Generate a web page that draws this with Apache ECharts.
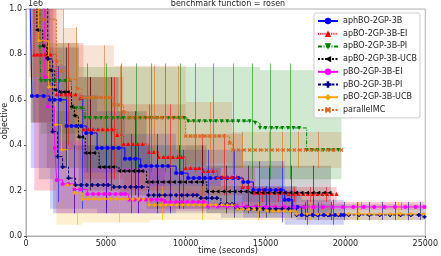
<!DOCTYPE html>
<html><head><meta charset="utf-8">
<script src="https://cdn.jsdelivr.net/npm/echarts@6/dist/echarts.min.js"></script>
<style>html,body{margin:0;padding:0;background:#fff}#c{width:441px;height:256px}</style>
</head><body><div id="c"></div>
<script>
const FONT = 'DejaVu Sans';
const seriesNames = ['aphBO-2GP-3B','apBO-2GP-3B-EI','apBO-2GP-3B-PI','apBO-2GP-3B-UCB','pBO-2GP-3B-EI','pBO-2GP-3B-PI','pBO-2GP-3B-UCB','parallelMC'];
const xTicks = [0, 5000, 10000, 15000, 20000, 25000];
const yTicks = [0, 0.2, 0.4, 0.6, 0.8, 1.0];
const chartTitle = 'benchmark function = rosen';
const xLabel = 'time (seconds)';
const yLabel = 'objective';
const yOffsetText = '1e6';

// mean objective (units of 1e6) : [time, value]
const aphMean = [[250,1.05],[370,0.617],[700,0.617],[1100,0.617],[1490,0.6],[1800,0.6],[2150,0.6],[2540,0.485],[2850,0.485],[3150,0.485],[3450,0.485],[3770,0.454],[4100,0.454],[4450,0.388],[4750,0.388],[5100,0.388],[5450,0.388],[5800,0.388],[6190,0.34],[6500,0.34],[6850,0.34],[7180,0.308],[7500,0.308],[7850,0.308],[8200,0.308],[8550,0.308],[8900,0.308],[9400,0.277],[9750,0.277],[10150,0.255],[10500,0.255],[10850,0.255],[11200,0.255],[11550,0.255],[11900,0.255],[12250,0.255],[12600,0.255],[12950,0.255],[13300,0.255],[13600,0.238],[13900,0.238],[14230,0.203],[14600,0.203],[14950,0.203],[15300,0.203],[15650,0.203],[15950,0.203],[16200,0.16],[16450,0.16],[16700,0.128],[17000,0.128],[17260,0.092],[17600,0.092],[17950,0.092],[18300,0.092],[18650,0.092],[19000,0.092],[19350,0.092],[19700,0.092],[19900,0.092]];
const apEIMean = [[300,1.05],[500,0.8],[700,0.8],[930,0.8],[1200,0.8],[1550,0.8],[1900,0.625],[2200,0.625],[2500,0.625],[2800,0.625],[3100,0.625],[3400,0.607],[3600,0.47],[3900,0.47],[4200,0.47],[4500,0.47],[4800,0.47],[5100,0.47],[5400,0.47],[5700,0.445],[6100,0.405],[6400,0.405],[6700,0.405],[7000,0.405],[7300,0.405],[7700,0.37],[8000,0.37],[8300,0.348],[8600,0.348],[8900,0.348],[9200,0.348],[9500,0.348],[9750,0.348],[10000,0.3],[10300,0.3],[10600,0.3],[10850,0.3],[11100,0.286],[11400,0.286],[11700,0.286],[12000,0.26],[12300,0.26],[12600,0.26],[12900,0.26],[13200,0.26],[13550,0.216],[13900,0.216],[14350,0.19],[14650,0.19],[14950,0.19],[15250,0.19],[15550,0.19],[15850,0.19],[16150,0.19],[16450,0.185],[16750,0.185],[17050,0.185],[17350,0.185],[17650,0.185],[17950,0.185],[18250,0.185],[18550,0.185],[18850,0.185],[19150,0.185],[19450,0.185]];
const apPIMean = [[300,1.05],[870,0.83],[930,0.683],[1200,0.683],[1500,0.683],[1800,0.683],[2100,0.683],[2450,0.683],[2850,0.563],[3150,0.563],[3450,0.563],[3700,0.52],[4000,0.52],[4350,0.52],[4700,0.52],[5050,0.52],[5400,0.52],[5750,0.52],[6100,0.52],[6450,0.52],[6800,0.52],[7150,0.52],[7500,0.52],[7850,0.52],[8200,0.52],[8550,0.52],[8900,0.52],[9250,0.52],[9600,0.52],[9900,0.52],[10150,0.506],[10500,0.506],[10850,0.506],[11200,0.506],[11550,0.506],[11900,0.506],[12250,0.506],[12600,0.506],[12950,0.506],[13300,0.506],[13650,0.506],[14000,0.506],[14350,0.498],[14650,0.476],[15000,0.476],[15350,0.476],[15700,0.476],[16050,0.476],[16400,0.476],[16750,0.476],[17100,0.476],[17570,0.379],[17900,0.379],[18250,0.379],[18600,0.379],[18950,0.379],[19250,0.379],[19550,0.379]];
const apUCBMean = [[430,1.05],[680,0.907],[1050,0.837],[1300,0.784],[1490,0.73],[1800,0.643],[2100,0.634],[2350,0.634],[2600,0.634],[2850,0.57],[3030,0.53],[3280,0.436],[3500,0.436],[3710,0.366],[3950,0.366],[4250,0.366],[4580,0.304],[4850,0.304],[5150,0.304],[5450,0.304],[5820,0.286],[6100,0.286],[6400,0.286],[6700,0.286],[7000,0.286],[7250,0.286],[7550,0.238],[7850,0.238],[8200,0.238],[8550,0.238],[8900,0.238],[9250,0.238],[9600,0.238],[9950,0.238],[10300,0.238],[10650,0.238],[11000,0.238],[11320,0.196],[11650,0.196],[12000,0.196],[12350,0.196],[12700,0.196],[13050,0.196],[13400,0.196],[13750,0.196],[14100,0.19],[14450,0.19],[14800,0.19],[15150,0.19],[15500,0.19],[15850,0.19],[16200,0.19],[16550,0.19],[16900,0.19],[17250,0.19],[17600,0.19],[17950,0.19],[18300,0.19],[18650,0.19],[19000,0.19]];
const pEIMean = [[500,1.05],[1180,0.7],[1360,0.57],[1800,0.388],[1920,0.247],[2290,0.229],[2650,0.229],[3030,0.205],[3400,0.205],[3840,0.185],[4200,0.185],[4550,0.185],[4900,0.185],[5250,0.185],[5600,0.185],[5950,0.185],[6200,0.185],[6430,0.16],[6800,0.16],[7150,0.16],[7500,0.16],[7850,0.16],[8200,0.16],[8500,0.16],[8720,0.15],[9050,0.15],[9400,0.15],[9750,0.15],[10100,0.15],[10450,0.15],[10800,0.15],[11100,0.15],[11400,0.13],[12000,0.13],[12600,0.13],[13200,0.13],[13800,0.13],[14400,0.13],[15000,0.128],[15600,0.128],[16200,0.128],[16800,0.128],[17400,0.128],[18000,0.128],[18600,0.128],[19200,0.128],[19850,0.128],[20500,0.128],[21150,0.128],[21800,0.128],[22450,0.128],[23100,0.128],[23750,0.128],[24400,0.128],[24950,0.128]];
const pPIMean = [[800,1.05],[1360,0.78],[1670,0.46],[1980,0.35],[2290,0.304],[2660,0.255],[3100,0.225],[3450,0.225],[3800,0.225],[4150,0.225],[4500,0.225],[4850,0.225],[5150,0.225],[5500,0.216],[5850,0.216],[6200,0.216],[6550,0.216],[6900,0.216],[7250,0.216],[7670,0.18],[8000,0.18],[8350,0.18],[8700,0.18],[9050,0.18],[9400,0.18],[9750,0.18],[10100,0.18],[10450,0.18],[10700,0.18],[10950,0.167],[11300,0.167],[11650,0.167],[11950,0.167],[12200,0.14],[12600,0.14],[12900,0.14],[13250,0.12],[13650,0.12],[14050,0.12],[14450,0.12],[14850,0.12],[15250,0.12],[15650,0.12],[16050,0.12],[16450,0.12],[16950,0.093],[17600,0.093],[18250,0.093],[18900,0.093],[19550,0.093],[20200,0.093],[20850,0.093],[21500,0.093],[22150,0.093],[22800,0.093],[23450,0.093],[24100,0.093],[24600,0.093],[24950,0.085]];
const pUCBMean = [[600,1.05],[800,0.86],[1420,0.656],[1860,0.49],[2230,0.38],[2600,0.225],[3030,0.19],[3530,0.163],[3900,0.163],[4250,0.163],[4600,0.163],[4950,0.163],[5300,0.163],[5650,0.163],[6000,0.163],[6350,0.163],[6700,0.163],[7050,0.163],[7350,0.163],[7700,0.137],[8050,0.137],[8400,0.137],[8750,0.137],[9100,0.137],[9450,0.137],[9800,0.137],[10150,0.137],[10500,0.137],[10850,0.137],[11200,0.137],[11550,0.137],[11900,0.137],[12250,0.137],[12600,0.137],[12900,0.137],[13250,0.118],[13600,0.118],[13950,0.118],[14300,0.118],[14650,0.118],[15100,0.11],[15450,0.11],[15800,0.11],[16150,0.11],[16550,0.11],[16950,0.097],[17600,0.097],[18250,0.097],[18900,0.097],[19550,0.097],[20200,0.097],[20850,0.097],[21500,0.097],[22150,0.097],[22800,0.097],[23450,0.097],[24100,0.097],[24900,0.097]];
const mcMean = [[200,1.05],[1100,0.955],[1900,0.77],[2200,0.727],[2700,0.69],[3200,0.65],[3500,0.61],[3800,0.61],[4100,0.61],[4400,0.61],[4700,0.61],[5000,0.61],[5250,0.61],[5500,0.577],[5800,0.577],[6100,0.546],[6400,0.522],[6700,0.522],[7000,0.522],[7300,0.522],[7600,0.522],[7900,0.522],[8200,0.522],[8500,0.522],[8800,0.522],[9100,0.522],[9400,0.522],[9700,0.522],[10000,0.44],[10300,0.44],[10600,0.44],[10900,0.44],[11200,0.44],[11500,0.44],[11800,0.44],[12100,0.44],[12400,0.44],[12750,0.41],[12950,0.379],[13300,0.379],[13650,0.379],[14000,0.379],[14350,0.379],[14700,0.379],[15050,0.379],[15400,0.379],[15750,0.379],[16100,0.379],[16450,0.379],[16800,0.379],[17150,0.379],[17500,0.379],[17850,0.379],[18200,0.379],[18550,0.379],[18900,0.379],[19250,0.379],[19750,0.379]];

// min/max bands : [time, low, high] (last row = end time)
const aphBand = [[300,0.3,1.0],[1500,0.12,0.75],[2500,0.12,0.62],[4450,0.1,0.55],[6200,0.1,0.45],[9400,0.12,0.38],[13600,0.08,0.33],[16200,0.05,0.2],[17260,0.05,0.16],[19900,0.05,0.16]];
const apEIBand = [[300,0.5,1.0],[1900,0.38,0.85],[3600,0.25,0.7],[6100,0.2,0.58],[10000,0.18,0.45],[13550,0.15,0.3],[14350,0.15,0.216],[19450,0.15,0.216]];
const apPIBand = [[300,0.5,1.0],[930,0.45,0.85],[3300,0.3,0.745],[14650,0.25,0.73],[19750,0.25,0.73]];
const apUCBBand = [[430,0.5,1.0],[1300,0.3,0.83],[3300,0.2,0.7],[5800,0.18,0.55],[7550,0.12,0.4],[11300,0.1,0.31],[19100,0.1,0.31]];
const pEIBand = [[500,0.2,1.0],[1900,0.1,0.42],[3800,0.1,0.3],[8700,0.11,0.2],[11400,0.115,0.15],[24950,0.115,0.15]];
const pPIBand = [[800,0.25,1.0],[1700,0.1,0.55],[3100,0.1,0.4],[7700,0.1,0.3],[12200,0.08,0.22],[16950,0.07,0.14],[24950,0.07,0.14]];
const pUCBBand = [[600,0.2,1.0],[1900,0.05,0.55],[3500,0.06,0.28],[7700,0.07,0.22],[13250,0.07,0.15],[24900,0.07,0.15]];
const mcBand = [[200,0.7,1.0],[2300,0.55,0.916],[3200,0.45,0.84],[5500,0.4,0.75],[10000,0.32,0.59],[12900,0.3,0.458],[19750,0.3,0.458]];

// error bars : [time, low, high]
const aphErr = [[2000,0.15,0.75],[3500,0.12,0.62],[5000,0.12,0.55],[6600,0.1,0.45],[8200,0.1,0.45],[9800,0.12,0.38],[11400,0.12,0.38],[13000,0.12,0.38],[14600,0.08,0.33],[16000,0.06,0.33],[17600,0.05,0.16],[19200,0.05,0.16]];
const apEIErr = [[2600,0.4,0.85],[4000,0.25,0.7],[5500,0.25,0.7],[7700,0.2,0.58],[9000,0.2,0.58],[11000,0.18,0.45],[12400,0.18,0.45],[14800,0.15,0.216],[15800,0.15,0.216],[16800,0.15,0.216],[17800,0.15,0.216],[18800,0.15,0.216]];
const apPIErr = [[3840,0.28,0.76],[5010,0.28,0.76],[5940,0.28,0.76],[6870,0.28,0.76],[7800,0.28,0.76],[8730,0.28,0.76],[9650,0.28,0.76],[10580,0.28,0.76],[11700,0.27,0.76],[12930,0.27,0.76],[14170,0.25,0.76],[15280,0.25,0.76],[16520,0.25,0.76]];
const apUCBErr = [[2500,0.3,0.83],[4000,0.2,0.7],[5300,0.2,0.7],[6800,0.18,0.55],[8200,0.12,0.4],[9600,0.12,0.4],[11000,0.12,0.4],[12500,0.1,0.31],[13900,0.1,0.31],[15200,0.1,0.31],[16600,0.08,0.31],[18000,0.08,0.31]];
const pEIErr = [[3000,0.1,0.3],[5000,0.1,0.3],[7000,0.1,0.3],[9000,0.11,0.2],[11000,0.11,0.2],[13500,0.115,0.15],[16000,0.115,0.15],[18500,0.115,0.15],[21000,0.115,0.15],[23500,0.115,0.15]];
const pPIErr = [[3000,0.1,0.4],[5000,0.1,0.4],[7000,0.1,0.4],[9000,0.1,0.3],[11000,0.1,0.3],[13000,0.08,0.22],[15000,0.08,0.22],[17500,0.07,0.15],[18300,0.07,0.15],[19100,0.07,0.15],[19900,0.07,0.15],[20700,0.07,0.15],[21500,0.07,0.15],[22300,0.07,0.15],[23100,0.07,0.15],[23900,0.07,0.15],[24700,0.07,0.15]];
const pUCBErr = [[3200,0.05,0.3],[5800,0.06,0.28],[8500,0.07,0.22],[11000,0.07,0.22],[14500,0.07,0.15],[17800,0.07,0.15],[20800,0.07,0.15],[23300,0.07,0.15]];
const mcErr = [[2300,0.45,1.0],[3100,0.45,0.92],[4900,0.4,0.84],[5900,0.4,0.75],[8000,0.35,0.75],[9500,0.35,0.75],[11500,0.3,0.59],[13500,0.3,0.46],[15200,0.3,0.46],[16000,0.3,0.46],[17000,0.3,0.46],[18300,0.3,0.46]];

const means = [aphMean, apEIMean, apPIMean, apUCBMean, pEIMean, pPIMean, pUCBMean, mcMean];
const bands = [aphBand, apEIBand, apPIBand, apUCBBand, pEIBand, pPIBand, pUCBBand, mcBand];
const errs  = [aphErr, apEIErr, apPIErr, apUCBErr, pEIErr, pPIErr, pUCBErr, mcErr];
const colors = ['#0000ff','#ff0000','#008000','#000000','#ff00ff','#000080','#ffa500','#d2691e'];
const PLUS = 'path://M3,0H7V3H10V7H7V10H3V7H0V3H3Z';
const XMARK = 'path://M0,2L2,0L5,3L8,0L10,2L7,5L10,8L8,10L5,7L2,10L0,8L3,5Z';
const symbols = ['circle','triangle','triangle','triangle','circle',PLUS,'diamond',XMARK];
const rotates = [0,0,180,90,0,0,0,0];
const dashes = ['solid',[1,1.2],[4,1.5,1,1.5],[2,1.5],'solid',[3,1.5],'solid',[2,1.5]];

function rgba(hex, a){
  const r=parseInt(hex.slice(1,3),16), g=parseInt(hex.slice(3,5),16), b=parseInt(hex.slice(5,7),16);
  return 'rgba('+r+','+g+','+b+','+a+')';
}

const series = [];
bands.forEach(function(b, i){
  series.push({
    type:'custom', silent:true, z:1, data:[[b[0][0], b[0][1]]],
    renderItem:function(params, api){
      const up=[], lo=[];
      for (let k=0;k<b.length-1;k++){
        up.push(api.coord([b[k][0], b[k][2]])); up.push(api.coord([b[k+1][0], b[k][2]]));
        lo.push(api.coord([b[k][0], b[k][1]])); lo.push(api.coord([b[k+1][0], b[k][1]]));
      }
      return {type:'polygon', shape:{points: up.concat(lo.reverse())}, style:{fill: rgba(colors[i], 0.18)}};
    }
  });
});
errs.forEach(function(e, i){
  series.push({
    type:'custom', silent:true, z:2, data:e, encode:{x:0, y:[1,2]},
    renderItem:function(params, api){
      const p1 = api.coord([api.value(0), api.value(1)]);
      const p2 = api.coord([api.value(0), api.value(2)]);
      const x = Math.round(p1[0]) + 0.5;
      return {type:'line', shape:{x1:x, y1:p1[1], x2:x, y2:p2[1]}, style:{stroke: rgba(colors[i], 0.55), lineWidth:1}};
    }
  });
});
means.forEach(function(m, i){
  series.push({
    type:'line', name: seriesNames[i], z:3, data:m, step:'end',
    symbol: symbols[i], symbolSize: 4, symbolRotate: rotates[i], showAllSymbol:true,
    itemStyle:{color: colors[i]},
    lineStyle:{color: colors[i], width:1, type: dashes[i]},
    clip:true
  });
});

const chart = echarts.init(document.getElementById('c'), null, {renderer:'canvas'});
chart.setOption({
  animation:false,
  backgroundColor:'#ffffff',
  textStyle:{fontFamily:FONT},
  grid:{left:26, right:11, top:9, bottom:20, show:true, borderColor:'#b0b0b0', borderWidth:1},
  xAxis:{type:'value', min:xTicks[0], max:xTicks[xTicks.length-1], interval:xTicks[1]-xTicks[0],
    axisLine:{show:true, lineStyle:{color:'#b0b0b0'}},
    axisTick:{show:true, length:2, lineStyle:{color:'#555'}},
    axisLabel:{fontSize:8, color:'#222', margin:4, fontFamily:FONT, formatter:function(v){return String(v);}},
    splitLine:{show:false}},
  yAxis:{type:'value', min:yTicks[0], max:yTicks[yTicks.length-1], interval:0.2,
    axisLine:{show:true, lineStyle:{color:'#b0b0b0'}},
    axisTick:{show:true, length:2, lineStyle:{color:'#555'}},
    axisLabel:{fontSize:8, color:'#222', margin:4, fontFamily:FONT, formatter:function(v){return v.toFixed(1);}},
    splitLine:{show:false}},
  legend:{
    data: seriesNames, orient:'vertical', left:314, top:13,
    padding:[3,3,3,3], itemWidth:20, itemHeight:8, itemGap:2.7,
    backgroundColor:'rgba(255,255,255,0.85)', borderColor:'#cccccc', borderWidth:1, borderRadius:2,
    textStyle:{fontSize:8, color:'#222', fontFamily:FONT, lineHeight:10}
  },
  graphic:[
    {type:'text', x:228, y:4, style:{text:chartTitle, align:'center', verticalAlign:'middle', font:'8px "DejaVu Sans"', fill:'#222'}},
    {type:'text', x:28, y:4, style:{text:yOffsetText, align:'left', verticalAlign:'middle', font:'8px "DejaVu Sans"', fill:'#222'}},
    {type:'text', x:228, y:251, style:{text:xLabel, align:'center', verticalAlign:'middle', font:'8px "DejaVu Sans"', fill:'#222'}},
    {type:'text', x:5, y:121, rotation:Math.PI/2, style:{text:yLabel, align:'center', verticalAlign:'middle', font:'8px "DejaVu Sans"', fill:'#222'}}
  ],
  series: series
});
</script></body></html>
